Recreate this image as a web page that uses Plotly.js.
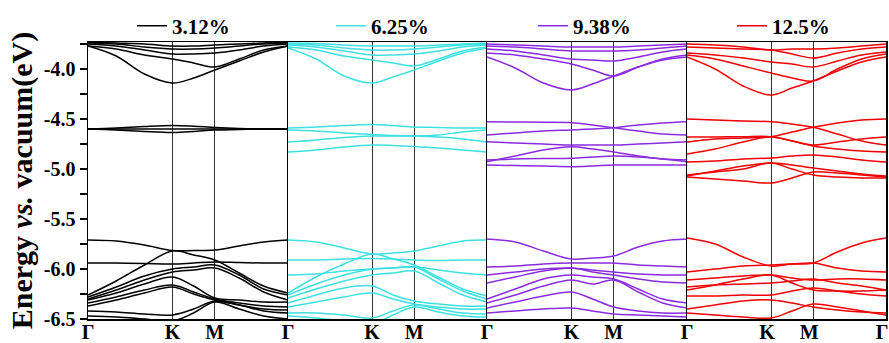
<!DOCTYPE html>
<html>
<head>
<meta charset="utf-8">
<script src="https://cdn.plot.ly/plotly-3.0.1.min.js"></script>
<style>html,body{margin:0;padding:0;background:#fff;}#chart{width:889px;height:343px;}</style>
</head>
<body>
<div id="chart"></div>
<script>
// k-path sample positions (Γ-K-M-Γ, hexagonal path lengths normalised)
const kPts = [0, 0.141, 0.282, 0.4226, 0.528, 0.634, 0.756, 0.878, 1];
const kTickVals = [0, 0.4226, 0.634, 1];
const kTickText = ['Γ', 'K', 'M', 'Γ'];
const seriesNames = ['3.12%', '6.25%', '9.38%', '12.5%'];
const seriesColors = ['#000000', '#3ee0e0', '#8a2be2', '#f00000'];
const yTickVals = [-6.5, -6.0, -5.5, -5.0, -4.5, -4.0];
const yTickText = ['-6.5', '-6.0', '-5.5', '-5.0', '-4.5', '-4.0'];

const bands312 = [
  [-3.77, -3.87, -4.05, -4.14, -4.09, -4.01, -3.92, -3.83, -3.77],
  [-3.77, -3.80, -3.86, -3.90, -3.94, -3.98, -3.90, -3.81, -3.77],
  [-3.75, -3.77, -3.81, -3.85, -3.85, -3.84, -3.81, -3.77, -3.75],
  [-3.74, -3.75, -3.78, -3.80, -3.80, -3.79, -3.77, -3.75, -3.74],
  [-3.73, -3.74, -3.75, -3.77, -3.77, -3.76, -3.75, -3.74, -3.73],
  [-4.60, -4.59, -4.575, -4.565, -4.572, -4.585, -4.595, -4.60, -4.60],
  [-4.60, -4.61, -4.625, -4.635, -4.625, -4.61, -4.605, -4.60, -4.60],
  [-4.60, -4.60, -4.60, -4.60, -4.60, -4.60, -4.60, -4.60, -4.60],
  [-5.71, -5.72, -5.76, -5.815, -5.815, -5.81, -5.77, -5.73, -5.71],
  [-5.94, -5.94, -5.945, -5.95, -5.94, -5.93, -5.935, -5.94, -5.94],
  [-6.26, -6.12, -5.96, -5.82, -5.86, -5.91, -6.04, -6.17, -6.24],
  [-6.28, -6.18, -6.07, -6.00, -5.98, -5.96, -6.06, -6.20, -6.26],
  [-6.30, -6.21, -6.11, -6.03, -6.01, -5.99, -6.09, -6.23, -6.31],
  [-6.31, -6.24, -6.15, -6.08, -6.17, -6.29, -6.31, -6.33, -6.33],
  [-6.34, -6.28, -6.21, -6.16, -6.23, -6.30, -6.34, -6.37, -6.38],
  [-6.37, -6.31, -6.24, -6.18, -6.25, -6.31, -6.36, -6.40, -6.41],
  [-6.42, -6.43, -6.45, -6.46, -6.40, -6.32, -6.36, -6.42, -6.44],
  [-6.47, -6.48, -6.50, -6.52, -6.44, -6.33, -6.40, -6.47, -6.50]
];
const bands625 = [
  [-3.79, -3.90, -4.07, -4.14, -4.08, -4.01, -3.92, -3.84, -3.79],
  [-3.78, -3.81, -3.87, -3.91, -3.94, -3.97, -3.90, -3.82, -3.78],
  [-3.76, -3.78, -3.82, -3.86, -3.86, -3.85, -3.82, -3.78, -3.76],
  [-3.75, -3.76, -3.79, -3.81, -3.81, -3.80, -3.78, -3.76, -3.75],
  [-3.74, -3.745, -3.76, -3.77, -3.77, -3.77, -3.76, -3.75, -3.74],
  [-4.59, -4.58, -4.565, -4.555, -4.565, -4.58, -4.585, -4.59, -4.59],
  [-4.61, -4.62, -4.64, -4.655, -4.665, -4.67, -4.66, -4.63, -4.61],
  [-4.73, -4.71, -4.685, -4.67, -4.67, -4.67, -4.68, -4.70, -4.73],
  [-4.83, -4.81, -4.78, -4.76, -4.765, -4.775, -4.79, -4.81, -4.83],
  [-5.71, -5.73, -5.79, -5.85, -5.84, -5.82, -5.77, -5.72, -5.71],
  [-5.91, -5.91, -5.90, -5.895, -5.90, -5.91, -5.915, -5.91, -5.91],
  [-6.06, -6.05, -6.02, -6.00, -5.99, -5.98, -6.01, -6.04, -6.06],
  [-6.24, -6.08, -5.95, -5.85, -5.90, -5.96, -6.08, -6.20, -6.27],
  [-6.26, -6.15, -6.06, -6.00, -5.99, -5.98, -6.10, -6.22, -6.30],
  [-6.29, -6.20, -6.12, -6.06, -6.04, -6.02, -6.14, -6.26, -6.33],
  [-6.34, -6.26, -6.19, -6.17, -6.26, -6.32, -6.35, -6.37, -6.37],
  [-6.38, -6.33, -6.28, -6.24, -6.30, -6.35, -6.38, -6.40, -6.40],
  [-6.44, -6.44, -6.46, -6.49, -6.42, -6.36, -6.40, -6.44, -6.45],
  [-6.47, -6.49, -6.52, -6.55, -6.46, -6.38, -6.43, -6.47, -6.48]
];
const bands938 = [
  [-3.88, -3.99, -4.14, -4.21, -4.15, -4.07, -3.98, -3.91, -3.88],
  [-3.84, -3.86, -3.90, -3.95, -4.01, -4.07, -3.98, -3.90, -3.86],
  [-3.80, -3.82, -3.86, -3.90, -3.91, -3.92, -3.88, -3.83, -3.80],
  [-3.77, -3.78, -3.80, -3.82, -3.82, -3.82, -3.81, -3.79, -3.77],
  [-3.75, -3.76, -3.77, -3.78, -3.78, -3.78, -3.77, -3.76, -3.75],
  [-4.527, -4.53, -4.533, -4.537, -4.56, -4.587, -4.62, -4.65, -4.66],
  [-4.66, -4.64, -4.62, -4.61, -4.60, -4.587, -4.56, -4.54, -4.527],
  [-4.727, -4.74, -4.75, -4.76, -4.76, -4.76, -4.75, -4.74, -4.727],
  [-4.927, -4.87, -4.81, -4.777, -4.80, -4.83, -4.87, -4.90, -4.91],
  [-4.91, -4.90, -4.895, -4.893, -4.88, -4.87, -4.88, -4.90, -4.927],
  [-4.96, -4.965, -4.97, -4.977, -4.97, -4.96, -4.96, -4.96, -4.96],
  [-5.70, -5.73, -5.82, -5.90, -5.89, -5.87, -5.78, -5.72, -5.70],
  [-5.98, -5.97, -5.95, -5.94, -5.94, -5.94, -5.96, -5.97, -5.98],
  [-6.06, -6.03, -6.00, -5.99, -6.01, -6.03, -6.05, -6.06, -6.06],
  [-6.14, -6.08, -6.02, -5.99, -6.03, -6.06, -6.10, -6.13, -6.14],
  [-6.30, -6.20, -6.10, -6.06, -6.08, -6.10, -6.20, -6.30, -6.34],
  [-6.34, -6.26, -6.17, -6.11, -6.15, -6.11, -6.23, -6.34, -6.39],
  [-6.39, -6.33, -6.27, -6.23, -6.30, -6.38, -6.42, -6.44, -6.44],
  [-6.44, -6.42, -6.40, -6.39, -6.42, -6.45, -6.46, -6.47, -6.48]
];
const bands125 = [
  [-3.88, -4.00, -4.17, -4.26, -4.19, -4.12, -4.02, -3.93, -3.88],
  [-3.86, -3.90, -3.97, -4.04, -4.09, -4.12, -4.00, -3.90, -3.85],
  [-3.84, -3.86, -3.89, -3.93, -3.95, -3.98, -3.92, -3.86, -3.83],
  [-3.78, -3.79, -3.80, -3.81, -3.85, -3.89, -3.84, -3.80, -3.78],
  [-3.75, -3.76, -3.78, -3.81, -3.80, -3.80, -3.79, -3.77, -3.75],
  [-4.50, -4.51, -4.52, -4.527, -4.55, -4.583, -4.65, -4.72, -4.76],
  [-4.73, -4.70, -4.69, -4.677, -4.63, -4.583, -4.54, -4.51, -4.50],
  [-4.68, -4.68, -4.677, -4.677, -4.72, -4.77, -4.80, -4.82, -4.83],
  [-4.85, -4.80, -4.73, -4.677, -4.72, -4.76, -4.73, -4.70, -4.68],
  [-4.93, -4.92, -4.90, -4.89, -4.87, -4.86, -4.88, -4.91, -4.93],
  [-5.07, -5.02, -4.97, -4.94, -4.96, -4.99, -5.02, -5.05, -5.07],
  [-5.06, -5.03, -5.00, -4.94, -5.00, -5.06, -5.08, -5.09, -5.09],
  [-5.08, -5.10, -5.12, -5.14, -5.09, -5.03, -5.04, -5.06, -5.08],
  [-5.69, -5.75, -5.88, -5.97, -5.95, -5.94, -5.83, -5.74, -5.69],
  [-6.03, -6.00, -5.97, -5.96, -5.95, -5.94, -5.99, -6.02, -6.03],
  [-6.11, -6.09, -6.07, -6.06, -6.09, -6.11, -6.10, -6.10, -6.11],
  [-6.18, -6.16, -6.15, -6.14, -6.12, -6.10, -6.14, -6.17, -6.21],
  [-6.21, -6.16, -6.10, -6.06, -6.14, -6.21, -6.22, -6.22, -6.21],
  [-6.27, -6.27, -6.26, -6.26, -6.22, -6.19, -6.22, -6.25, -6.27],
  [-6.40, -6.36, -6.32, -6.31, -6.34, -6.38, -6.41, -6.43, -6.44],
  [-6.44, -6.46, -6.48, -6.49, -6.42, -6.35, -6.38, -6.42, -6.46]
];
const allBands = [bands312, bands625, bands938, bands125];

const FONT = 'Liberation Serif, Times New Roman, serif';
const traces = [];
const legendIds = ['legend', 'legend2', 'legend3', 'legend4'];
allBands.forEach((bands, p) => {
  const xa = p === 0 ? 'x' : 'x' + (p + 1);
  const ya = p === 0 ? 'y' : 'y' + (p + 1);
  bands.forEach((b, i) => {
    traces.push({
      x: kPts, y: b, type: 'scatter', mode: 'lines',
      xaxis: xa, yaxis: ya,
      line: {color: seriesColors[p], width: 1.5, shape: 'spline', smoothing: 1},
      name: seriesNames[p], showlegend: i === 0, legend: legendIds[p],
      hoverinfo: 'skip'
    });
  });
});

const L = 88, R = 3, T = 42, B = 24, W = 889, H = 343;
const pw = W - L - R;
const edges = [88, 288, 487, 687, 886].map(v => (v - L) / pw);
const layout = {
  width: W, height: H,
  margin: {l: L, r: R, t: T, b: B},
  paper_bgcolor: '#ffffff', plot_bgcolor: '#ffffff',
  font: {family: FONT, size: 20, color: '#000', weight: 700},
  showlegend: true
};
const legendX = [132, 331, 533, 732];
for (let p = 0; p < 4; p++) {
  const sfx = p === 0 ? '' : String(p + 1);
  layout['xaxis' + sfx] = {
    domain: [edges[p], edges[p + 1]], range: [0, 1], anchor: 'y' + sfx,
    tickmode: 'array', tickvals: p === 0 ? kTickVals : kTickVals.slice(1), ticktext: p === 0 ? kTickText : kTickText.slice(1),
    ticks: '', ticklabelstandoff: -6, ticklabeloverflow: 'allow', ticklabelshift: p === 3 ? -4 : 0,
    showline: true, linecolor: '#000', linewidth: 1.5, mirror: true,
    showgrid: true, gridcolor: '#333', gridwidth: 1, zeroline: false,
    tickfont: {family: FONT, size: 20, weight: 700, color: '#000'}, fixedrange: true
  };
  layout['yaxis' + sfx] = {
    domain: [0, 1], range: [-6.5, -3.73], anchor: 'x' + sfx,
    showline: true, linecolor: '#000', linewidth: 1.5, mirror: p === 3,
    showgrid: false, zeroline: false, fixedrange: true,
    tickmode: 'array', tickvals: yTickVals, ticktext: yTickText,
    ticks: p === 0 ? 'outside' : '', ticklen: 7, tickwidth: 1.5, tickcolor: '#000',
    showticklabels: p === 0,
    tickfont: {family: FONT, size: 20, weight: 700, color: '#000'},
    minor: p === 0 ? {dtick: 0.25, tick0: -6.5, ticks: 'outside', ticklen: 7, tickwidth: 1.5, tickcolor: '#000'} : undefined
  };
  layout[legendIds[p]] = {
    x: (legendX[p] - L) / pw, y: (319 - 26) / 277, xanchor: 'left', yanchor: 'middle',
    orientation: 'h', bgcolor: 'rgba(0,0,0,0)', borderwidth: 0,
    font: {family: FONT, size: 21, weight: 700, color: '#000'}
  };
}
layout.yaxis.title = {text: '<b>Energy <i>vs.</i> vacuum(eV)</b>', font: {family: FONT, size: 30, weight: 700, color: '#000'}, standoff: 2};

Plotly.newPlot('chart', traces, layout, {displayModeBar: false, staticPlot: true});
</script>
</body>
</html>
